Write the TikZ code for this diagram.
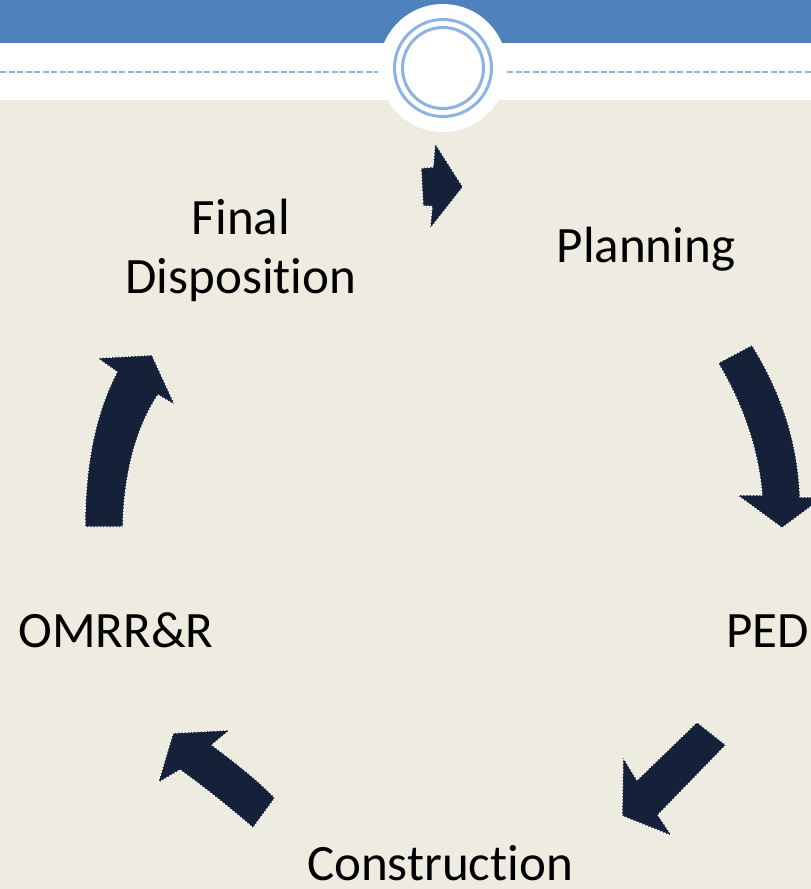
\documentclass[tikz,border=0pt]{standalone}
\usepackage{fontspec}
\setmainfont{Carlito}[Ligatures={NoCommon}]
\definecolor{bandblue}{HTML}{4F81BD}
\definecolor{ringblue}{HTML}{8DB3E2}
\definecolor{beige}{HTML}{EEECE1}
\definecolor{navy}{HTML}{142138}
\tikzset{
  blockarrow/.style={fill=navy, draw=white, line width=1.1pt, dash pattern=on 2pt off 1.2pt, line join=round},
  stage/.style={anchor=base, inner sep=0pt, font=\fontsize{51}{59}\selectfont, text=black, align=center},
  ring/.style={draw=ringblue, line width=3pt},
  sepline/.style={draw=ringblue, line width=1.5pt, dash pattern=on 6pt off 2.5pt}
}
\begin{document}
\begin{tikzpicture}[x=1pt,y=-1pt]
\useasboundingbox (0,0) rectangle (811,889);
\clip (0,0) rectangle (811,889);
% backgrounds
\fill[beige] (0,0) rectangle (811,889);
\fill[white] (0,43) rectangle (811,100);
\fill[bandblue] (0,0) rectangle (811,43);
\draw[sepline] (0,72) -- (378,72);
\draw[sepline] (507,72) -- (811,72);
\fill[white] (443,68) circle[radius=64];
\draw[ring] (443,68) circle[radius=48.5];
\draw[ring] (443,68) circle[radius=40.5];
% labels
\node[stage] (final) at (241,293) {Final\\Disposition};
\node[stage] (plan) at (646,262) {Planning};
\node[stage] (omrr) at (116,647) {OMRR\&R};
\node[stage, anchor=base west] (ped) at (726,647) {PED};
\node[stage] (cons) at (440,880) {Construction};
% arrows
\draw[blockarrow] (435,143) -- (463,187) -- (430,229) -- (432,206.5) -- (423,206) -- (421,168) -- (433,167) -- cycle;
\draw[blockarrow] (718,363) -- (752,345) .. controls (780,390) and (798,440) .. (800,497) -- (824,497) -- (782,528) -- (737,495) -- (762,495) .. controls (758,445) and (740,400) .. cycle;
\draw[blockarrow] (697,722) -- (726,745) -- (658,815) -- (672,836) -- (622,816) -- (623,757) -- (637,780) -- cycle;
\draw[blockarrow] (173,733) -- (230,730) -- (212,745) .. controls (235,762) and (258,780) .. (275,798) -- (253,828) .. controls (230,808) and (205,788) .. (180,770) -- (158,783) -- cycle;
\draw[blockarrow] (85,527) -- (123,527) .. controls (124,470) and (138,425) .. (158,395) -- (175,405) -- (152,355) -- (97,358) -- (117,372) .. controls (97,410) and (85,460) .. cycle;
\end{tikzpicture}
\end{document}
